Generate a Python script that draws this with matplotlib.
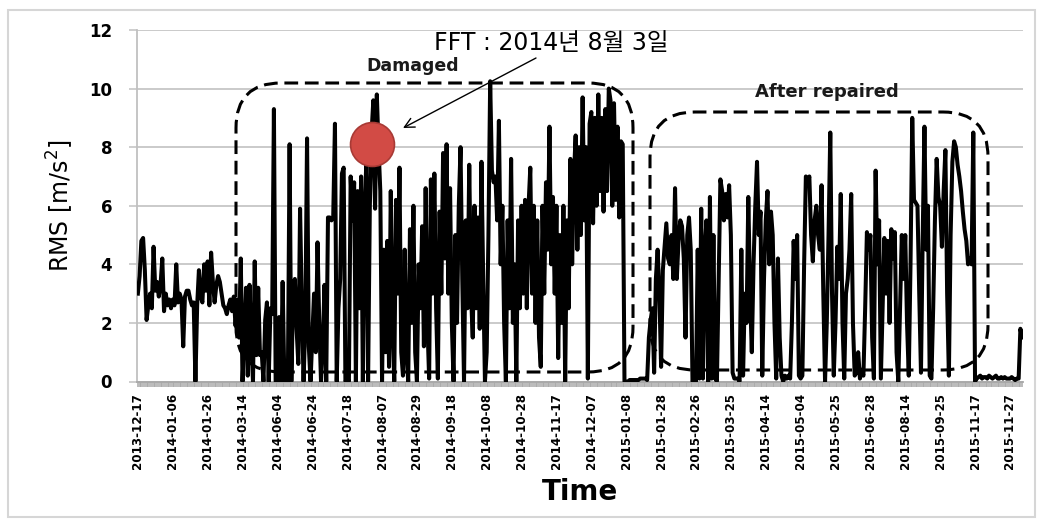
import matplotlib
matplotlib.use("Agg")
import matplotlib.pyplot as plt
from matplotlib.patches import FancyBboxPatch, Rectangle
import numpy as np

# ---- data -------------------------------------------------------------
tick_labels = [
    "2013-12-17", "2014-01-06", "2014-01-26", "2014-03-14", "2014-06-04",
    "2014-06-24", "2014-07-18", "2014-08-07", "2014-08-29", "2014-09-18",
    "2014-10-08", "2014-10-28", "2014-11-17", "2014-12-07", "2015-01-08",
    "2015-01-28", "2015-02-26", "2015-03-25", "2015-04-14", "2015-05-04",
    "2015-05-25", "2015-06-28", "2015-08-14", "2015-09-25", "2015-11-17",
    "2015-11-27",
]
label_step = 20

# RMS acceleration [m/s^2], one value per measurement record
rms_initial = [
    3.0, 3.6, 4.8, 4.9, 3.8, 2.1, 2.6, 3.0, 2.5, 4.6, 3.1, 3.4, 2.9, 3.3, 4.2, 2.4, 3.0, 2.6, 2.8, 2.5,
    2.8, 2.6, 4.0, 2.7, 3.0, 2.8, 1.2, 2.9, 3.1, 3.1, 2.8, 2.6, 2.7, 0.0, 2.6, 3.8, 2.9, 2.7, 4.0, 3.1,
    4.1, 2.6, 4.4, 3.4, 2.7, 3.3, 3.6, 3.4, 3.0, 2.6, 2.5, 2.3, 2.6, 2.8, 2.4, 2.9, 1.9, 2.8, 1.5, 4.2,
]
rms_damaged = [
    0.0, 1.5, 3.2, 0.2, 3.3, 1.4, 0.0, 4.1, 0.9, 3.2, 0.9, 1.0, 0.0, 2.1, 2.7, 0.0, 2.5, 2.3, 9.3, 0.0,
    0.0, 2.2, 0.0, 3.4, 0.0, 0.1, 0.0, 8.1, 0.0, 2.9, 3.5, 1.8, 0.6, 5.9, 2.6, 0.0, 2.0, 8.3, 1.2, 0.0,
    1.5, 3.0, 1.0, 4.75, 2.0, 0.0, 1.2, 3.3, 0.0, 5.6, 5.6, 5.5, 5.6, 8.8, 0.0, 2.5, 3.5, 7.1, 7.3, 0.0,
    0.1, 0.0, 7.0, 5.5, 6.8, 0.0, 6.5, 2.5, 7.0, 0.0, 5.8, 7.5, 0.0, 6.0, 8.5, 9.6, 5.9, 9.8, 8.0, 6.5,
    0.0, 4.5, 1.0, 4.8, 0.5, 6.5, 2.0, 0.0, 6.2, 3.0, 7.3, 1.0, 0.2, 4.5, 1.0, 0.0, 5.2, 2.0, 6.0, 1.0,
    0.0, 4.0, 2.5, 5.3, 1.2, 6.6, 2.0, 0.1, 6.9, 3.0, 7.1, 2.5, 0.1, 5.8, 3.0, 7.8, 4.2, 8.1, 3.0, 6.6,
    2.0, 0.0, 5.0, 2.0, 6.0, 8.0, 3.5, 0.0, 5.5, 2.5, 7.4, 3.0, 1.5, 6.0, 2.5, 5.6, 1.8, 7.5, 3.5, 0.0,
    1.0, 5.0, 10.25, 7.2, 6.8, 7.0, 5.5, 8.9, 4.0, 6.0, 2.0, 0.0, 5.5, 2.5, 7.6, 2.0, 4.0, 0.0, 5.5, 2.5,
    6.0, 3.0, 6.2, 2.5, 6.0, 7.3, 3.0, 6.0, 2.0, 5.5, 1.5, 0.5, 6.0, 3.0, 6.8, 4.5, 8.7, 4.0, 6.3, 3.0,
    6.0, 0.8, 5.0, 2.0, 6.0, 0.0, 5.5, 2.5, 7.6, 4.0, 7.0, 8.4, 4.5, 8.0, 5.0, 9.7, 5.5, 8.0, 0.1, 8.8,
    9.2, 5.4, 9.0, 6.0, 9.8, 6.5, 9.0, 5.8, 9.3, 6.5, 10.0, 9.6, 6.0, 9.5, 6.2, 8.7, 5.6, 8.2, 8.1, 0.0,
]
rms_repaired = [
    0.0, 0.0, 0.05, 0.05, 0.05, 0.05, 0.05, 0.05, 0.1, 0.1, 0.1, 0.1, 0.05, 1.5, 2.1, 2.5, 0.3, 3.5, 4.5, 3.0,
    0.5, 3.8, 4.6, 5.4, 4.2, 4.0, 5.0, 3.5, 6.6, 3.5, 4.8, 5.5, 5.3, 4.2, 1.5, 5.0, 5.6, 4.5, 0.0, 0.1,
    0.0, 4.5, 0.1, 5.9, 0.1, 4.5, 5.5, 0.0, 6.3, 0.1, 5.0, 0.1, 0.0, 3.5, 6.9, 6.5, 5.5, 6.4, 5.6, 6.7,
    5.0, 0.3, 0.1, 0.1, 0.1, 0.0, 4.5, 0.2, 3.0, 2.0, 6.3, 3.0, 1.0, 4.0, 6.0, 7.5, 5.0, 5.8, 0.2, 3.5,
    5.5, 6.5, 4.0, 5.8, 5.0, 2.0, 0.1, 4.2, 1.5, 0.2, 0.0, 0.2, 0.1, 0.2, 0.1, 2.0, 4.8, 3.5, 5.0, 0.2,
    0.1, 0.2, 4.0, 7.0, 6.8, 7.0, 5.0, 4.1, 5.5, 6.0, 5.0, 4.5, 6.7, 3.0, 0.0, 2.0, 5.0, 8.5, 3.0, 0.2,
    2.0, 4.6, 3.5, 6.4, 2.0, 0.1, 3.0, 3.5, 4.5, 6.4, 2.0, 0.2, 0.3, 1.0, 0.1, 0.4, 0.2, 2.5, 5.1, 4.5,
    5.0, 1.5, 0.1, 7.2, 4.0, 5.5, 0.1, 2.5, 4.9, 3.0, 4.8, 2.0, 5.2, 4.2, 5.1, 1.0, 0.0, 2.5, 5.0, 3.5,
    5.0, 2.0, 0.2, 4.0, 9.0, 6.2, 6.1, 6.0, 3.0, 0.3, 5.0, 8.7, 4.5, 6.0, 0.2, 0.1, 2.5, 5.5, 7.6, 6.3,
    6.0, 4.6, 6.5, 7.9, 3.0, 0.2, 5.0, 7.5, 8.2, 8.0, 7.4, 7.0, 6.5, 5.8, 5.2, 4.8, 4.0, 4.2, 4.0, 8.5,
]
rms_final = [
    0.0, 0.1, 0.15, 0.2, 0.1, 0.15, 0.15, 0.1, 0.2, 0.15, 0.1, 0.15, 0.2, 0.1, 0.1, 0.15, 0.1, 0.15, 0.1, 0.1,
    0.1, 0.15, 0.1, 0.05, 0.1, 0.1, 1.8, 1.5,
]

fft_index = 134      # record used for the FFT (2014-08-03)
fft_value = 8.1

rms = np.array(rms_initial + rms_damaged + rms_repaired + rms_final)
idx = np.arange(len(rms))

# ---- figure -----------------------------------------------------------
W, H, DPI = 1039, 523, 100
fig = plt.figure(figsize=(W / DPI, H / DPI), dpi=DPI)
ax = fig.add_axes([137 / W, 1 - 381.5 / H, (1023 - 137) / W, (381.5 - 30) / H])

ax.plot(idx, rms, color="black", lw=2.9, zorder=3)

ax.set_xlim(-0.5, len(rms) - 0.5)
ax.set_ylim(0, 12)
ax.set_yticks(range(0, 13, 2))
ax.yaxis.grid(True, color="#c6c6c6", lw=1.3)
ax.set_axisbelow(True)

ax.set_xticks(np.arange(0, len(tick_labels) * label_step, label_step))
ax.set_xticklabels(tick_labels, rotation=90, fontsize=8.6, fontweight="bold")
ax.set_xticks(idx, minor=True)
ax.tick_params(axis="x", which="both", direction="out", length=3.5, width=1.1,
               color="#a8a8a8", pad=5)
ax.tick_params(axis="y", length=6, width=1.2, color="#c6c6c6", pad=12)
for t in ax.get_yticklabels():
    t.set_fontweight("bold")
    t.set_fontsize(12)

for s in ("top", "right"):
    ax.spines[s].set_visible(False)
ax.spines["left"].set_color("#c0c0c0")
ax.spines["left"].set_linewidth(1.3)
ax.spines["bottom"].set_color("#a8a8a8")
ax.spines["bottom"].set_linewidth(1.3)

# axis titles
fig.text(60 / W, 1 - 206 / H, r"RMS [m/s$^2$]", rotation=90, ha="center",
         va="center", fontsize=17)
fig.text(580 / W, 1 - 492 / H, "Time", ha="center", va="center",
         fontsize=20, fontweight="bold")

# FFT sample marker
ax.scatter([fft_index], [fft_value], s=1000, facecolor="#d24b45",
           edgecolor="#a83a35", linewidth=1.2, zorder=5, clip_on=False)


def pbox(x0, y0, x1, y1, r):
    """Dashed rounded box given in figure pixel coordinates (y down)."""
    p = FancyBboxPatch((x0 / DPI, (H - y1) / DPI), (x1 - x0) / DPI, (y1 - y0) / DPI,
                       boxstyle=f"round,pad=0,rounding_size={r / DPI}",
                       transform=fig.dpi_scale_trans, fill=False,
                       ec="black", lw=2.2, ls=(0, (4.5, 2.2)), zorder=6)
    fig.add_artist(p)


pbox(236, 83, 633, 372, 45)
pbox(650, 112, 988, 370, 45)

fig.text(413 / W, 1 - 66 / H, "Damaged", ha="center", va="center",
         fontsize=12.5, fontweight="bold", color="#1a1a1a")
fig.text(827 / W, 1 - 92 / H, "After repaired", ha="center", va="center",
         fontsize=13, fontweight="bold", color="#1a1a1a")

fig.text(551 / W, 1 - 43 / H, "FFT : 2014년 8월 3일", ha="center", va="center",
         fontsize=17, family=["DejaVu Sans", "Noto Sans CJK KR"])
ax.annotate("", xy=(403, H - 128), xycoords="figure pixels",
            xytext=(536, H - 58), textcoords="figure pixels",
            arrowprops=dict(arrowstyle="->,head_length=0.7,head_width=0.35",
                            lw=1.0, color="black", shrinkA=0, shrinkB=0))

# outer frame
fig.add_artist(Rectangle((8 / W, 1 - 517 / H), (1035 - 8) / W, (517 - 10) / H,
                         transform=fig.transFigure, fill=False,
                         ec="#d6d6d6", lw=1.5))

fig.savefig("out.png", dpi=DPI)
